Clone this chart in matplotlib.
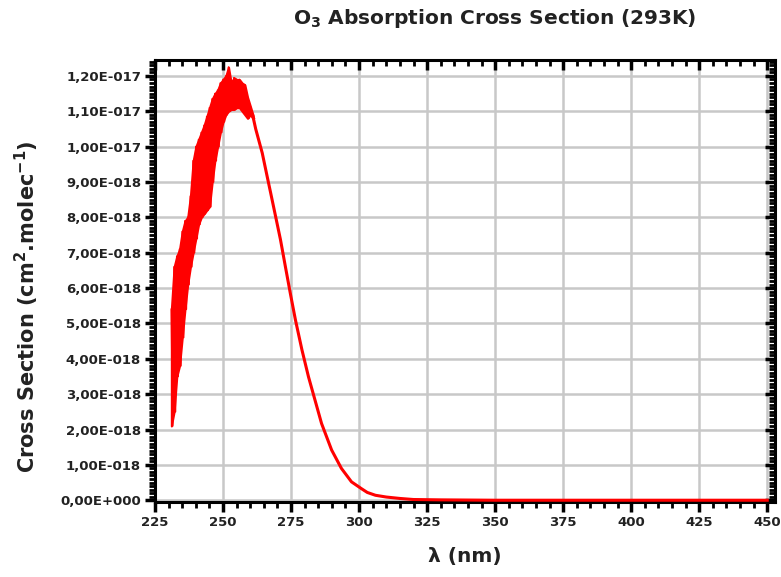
"""
O3 absorption cross section at 293K
"""

import matplotlib
matplotlib.use('Agg')
import matplotlib.pyplot as plt
from matplotlib.ticker import MultipleLocator, FuncFormatter

# Noisy Hartley band region (units 1e-18 cm2/molec)
band_wl = [231, 232, 233, 234, 235, 236, 237, 238, 239, 240, 241, 242, 243,
           244, 245, 246, 247, 248, 249, 250, 251, 252, 253, 254, 255, 256,
           257, 258, 259, 260, 261]
band_hi = [5.4, 6.6, 6.9, 7.1, 7.6, 7.9, 8.0, 8.6, 9.6, 10.0, 10.2, 10.4, 10.6,
           10.85, 11.1, 11.35, 11.5, 11.6, 11.8, 11.9, 12.0, 12.25, 11.8, 11.95,
           11.9, 11.9, 11.8, 11.75, 11.4, 11.15, 10.9]
band_lo = [2.1, 2.5, 3.5, 3.8, 4.6, 5.4, 6.1, 6.6, 7.0, 7.4, 7.8, 8.0, 8.1,
           8.2, 8.3, 9.0, 9.6, 10.0, 10.4, 10.7, 10.9, 11.0, 11.05, 11.05, 11.1,
           11.1, 11.0, 10.9, 10.8, 10.9, 10.8]

# Smooth tail of the band
tail_wl = [261.0, 262.0, 264.4, 266.2, 267.5, 269.3, 271.1, 272.9, 274.7, 276.6,
           279.0, 281.4, 283.8, 286.2, 289.9, 293.5, 297.2, 300.8, 303, 306,
           310, 315, 320, 330, 350, 400, 450]
tail_val = [10.85, 10.5, 9.82, 9.16, 8.69, 8.03, 7.37, 6.61, 5.86, 5.10,
            4.25, 3.49, 2.83, 2.17, 1.42, 0.90, 0.52, 0.33, 0.22, 0.14,
            0.09, 0.05, 0.02, 0.01, 0.0, 0.0, 0.0]

scale = 1e-18
red = '#ff0000'

fig = plt.figure(figsize=(7.81, 5.77), dpi=100)
ax = fig.add_axes([0.1985, 0.130, 0.794, 0.766])

# solid noisy band + zigzag trace through it (hi at whole nm, lo half a step later)
ax.fill_between(band_wl, [v * scale for v in band_lo], [v * scale for v in band_hi],
                color=red, linewidth=1.5, edgecolor=red, zorder=3)
zig_x, zig_y = [], []
for w, hi, lo in zip(band_wl, band_hi, band_lo):
    zig_x += [w, w + 0.5]
    zig_y += [hi * scale, lo * scale]
ax.plot(zig_x, zig_y, color=red, linewidth=1.2, zorder=3)
ax.plot(tail_wl, [v * scale for v in tail_val], color=red, linewidth=2.2, zorder=3)

ax.set_xlim(225, 452.9)
ax.set_ylim(-0.05e-18, 12.45e-18)

ax.xaxis.set_major_locator(MultipleLocator(25))
ax.xaxis.set_minor_locator(MultipleLocator(5))
ax.yaxis.set_major_locator(MultipleLocator(1e-18))
ax.yaxis.set_minor_locator(MultipleLocator(1e-19))


def sci_comma(v, pos):
    if abs(v) < 1e-25:
        return '0,00E+000'
    s = '%.2E' % v
    mant, exp = s.split('E')
    e = int(exp)
    return '%sE%s%03d' % (mant.replace('.', ','), '-' if e < 0 else '+', abs(e))


ax.yaxis.set_major_formatter(FuncFormatter(sci_comma))

ax.grid(True, which='major', color='#c8c8c8', linewidth=1.8, zorder=0)
ax.set_axisbelow(True)

for side in ['left', 'bottom', 'top', 'right']:
    ax.spines[side].set_linewidth(2.2)
    ax.spines[side].set_color('black')

ax.tick_params(axis='both', which='major', direction='out', length=7, width=2.5,
               labelsize=9.5, pad=3)
ax.tick_params(axis='both', which='minor', direction='out', length=4, width=2)
ax.tick_params(axis='x', which='both', top=True, labeltop=False)
ax.tick_params(axis='y', which='both', right=True, labelright=False)
for lbl in ax.get_xticklabels() + ax.get_yticklabels():
    lbl.set_fontweight('bold')
    lbl.set_color('#222222')

# top/right ticks point inward
for t in ax.xaxis.get_major_ticks() + ax.xaxis.get_minor_ticks():
    t.tick2line.set_marker(3)  # TICKDOWN
for t in ax.yaxis.get_major_ticks() + ax.yaxis.get_minor_ticks():
    t.tick2line.set_marker(0)  # TICKLEFT

ax.set_xlabel('λ (nm)', fontsize=14.5, fontweight='bold', color='#222222')
ax.xaxis.set_label_coords(0.5, -0.124)
ax.xaxis.label.set_va('center')
ax.set_ylabel('Cross Section (cm$^{\\mathbf{2}}$.molec$^{\\mathbf{-1}}$)', fontsize=15,
              fontweight='bold', color='#222222')
ax.yaxis.set_label_coords(-0.206, 0.441)
ax.yaxis.label.set_va('center')

fig.text(0.633, 0.968, 'O$_\\mathbf{3}$ Absorption Cross Section (293K)', ha='center',
         va='center', fontsize=14.5, fontweight='bold', color='#222222')

fig.savefig('out.png', dpi=100, facecolor='white')
